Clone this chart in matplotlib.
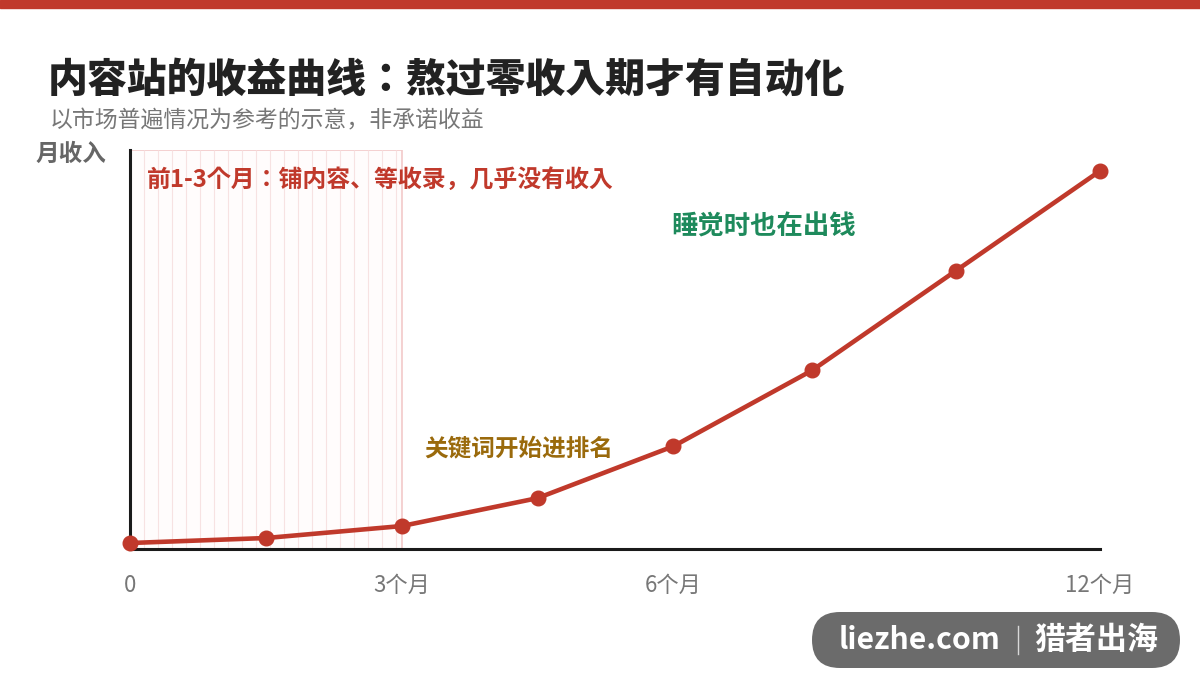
import numpy as np
import matplotlib
matplotlib.use("Agg")
from matplotlib import pyplot as plt
from matplotlib.patches import Rectangle, FancyBboxPatch

plt.rcParams['font.family'] = ['Noto Sans CJK SC', 'DejaVu Sans']
JP = ['Noto Sans CJK JP', 'DejaVu Sans']

# data: checkpoints along the timeline, relative monthly income
x_pos = [0, 1, 2, 3, 4, 5.02, 6.08, 7.14]
income = [6, 11, 23, 51, 103, 179, 279, 379]
tick_pos = [0, 2, 4, 7.14]
tick_labels = ["0", "3个月", "6个月", "12个月"]

RED = "#c0392b"
GREEN = "#1e8a5c"
GOLD = "#9a6a0c"
GRAY = "#777777"


def main():
    fig = plt.figure(figsize=(12, 6.9), dpi=100)
    ax = fig.add_axes([130 / 1200, 1 - 549 / 690, 970 / 1200, 399 / 690])

    # top red band
    fig.patches.append(Rectangle((0, 1 - 8 / 690), 1, 8 / 690, transform=fig.transFigure,
                                 color=RED, zorder=0))

    # shaded "no income" period with thin stripes
    ax.add_patch(Rectangle((0, 0), 2, 400, facecolor="#fffcfc", edgecolor="#f2c9c9",
                           linewidth=1.2, zorder=1))
    ax.vlines(np.arange(0.103, 2, 0.103), 0, 400, colors="#f7e2e2", linewidth=0.8, zorder=1)

    ax.plot(x_pos, income, color=RED, linewidth=3.3, marker="o", markersize=10.5,
            clip_on=False, zorder=5)

    ax.set_xlim(0, 7.14)
    ax.set_ylim(0, 400)
    ax.set_xticks(tick_pos)
    ax.set_xticklabels(tick_labels)
    ax.set_yticks([])
    ax.tick_params(axis="x", length=0, pad=18, labelsize=16, labelcolor=GRAY)
    for s in ["top", "right"]:
        ax.spines[s].set_visible(False)
    for s in ["left", "bottom"]:
        ax.spines[s].set_linewidth(2.2)
        ax.spines[s].set_color("#1a1a1a")

    ax.text(0.125, 370, "前1-3个月：铺内容、等收录，几乎没有收入", color=RED,
            fontsize=17.2, fontweight="bold", va="center", ha="left", zorder=6, family=JP)
    ax.text(3.985, 323, "睡觉时也在出钱", color=GREEN, fontsize=19,
            fontweight="bold", va="center", ha="left", zorder=6)
    ax.text(2.17, 101, "关键词开始进排名", color=GOLD, fontsize=17,
            fontweight="bold", va="center", ha="left", zorder=6)

    fig.text(48 / 1200, 1 - 80 / 690, "内容站的收益曲线：熬过零收入期才有自动化",
             fontsize=28.7, fontweight="heavy", color="#222222", va="center", ha="left",
             family=JP)
    fig.text(50 / 1200, 1 - 121 / 690, "以市场普遍情况为参考的示意，非承诺收益",
             fontsize=16.5, color=GRAY, va="center", ha="left")
    fig.text(35 / 1200, 1 - 154 / 690, "月收入", fontsize=17, fontweight="bold",
             color="#666666", va="center", ha="left")

    # watermark badge
    fig.patches.append(FancyBboxPatch((812, 22), 368, 56,
                                      boxstyle="round,pad=0,rounding_size=28",
                                      transform=None, facecolor="#6b6b6b",
                                      edgecolor="none", zorder=10))
    fig.text(839 / 1200, 1 - 640 / 690, "liezhe.com", fontsize=21.7, fontweight="bold",
             color="white", va="center", ha="left", zorder=11)
    fig.text(1034 / 1200, 1 - 640 / 690, "猎者出海", fontsize=22.3, fontweight="bold",
             color="white", va="center", ha="left", zorder=11)
    fig.lines.append(plt.Line2D([1018 / 1200, 1018 / 1200], [1 - 626 / 690, 1 - 654 / 690],
                                transform=fig.transFigure, color="#d8d8d8",
                                linewidth=1, zorder=11))

    fig.savefig("out.png", dpi=100)


if __name__ == '__main__':
    main()
